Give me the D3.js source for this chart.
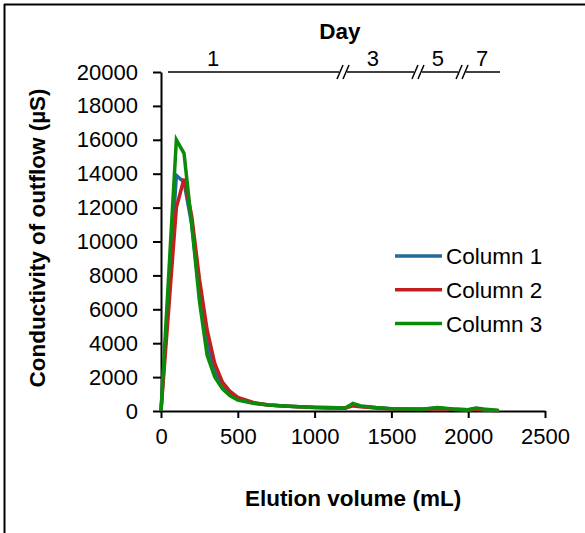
<!DOCTYPE html>
<html>
<head>
<meta charset="utf-8">
<script src="https://cdn.jsdelivr.net/npm/d3@7"></script>
<style>
  body { margin: 0; background: #fff; }
  svg { display: block; font-family: "Liberation Sans", Arial, sans-serif; }
</style>
</head>
<body>
<svg id="chart" width="585" height="533"></svg>
<script>
// elution volume (mL) of each sample
var volumes = [0, 100, 150, 200, 250, 300, 350, 400, 450, 500, 600, 700, 800, 900, 1000, 1100, 1200, 1250, 1300, 1400, 1500, 1600, 1700, 1800, 1900, 2000, 2050, 2100, 2200];
var column1 = [0, 13900, 13500, 11000, 7000, 4000, 2300, 1450, 1000, 720, 480, 350, 300, 250, 210, 190, 175, 380, 280, 190, 130, 110, 110, 180, 110, 70, 150, 90, 20];
var column2 = [0, 12000, 13700, 11500, 7800, 4800, 2800, 1700, 1150, 800, 500, 350, 300, 250, 200, 180, 170, 300, 250, 180, 120, 100, 100, 130, 100, 50, 100, 60, 10];
var column3 = [0, 16000, 15200, 11000, 6500, 3300, 2000, 1300, 900, 650, 450, 350, 300, 250, 220, 200, 180, 450, 300, 200, 130, 120, 110, 200, 120, 80, 180, 120, 30];
var seriesNames = ["Column 1", "Column 2", "Column 3"];
var seriesColors = ["#1f6b99", "#c0201f", "#0a8c0a"];

var xTicks = [0, 500, 1000, 1500, 2000, 2500];
var yTicks = [0, 2000, 4000, 6000, 8000, 10000, 12000, 14000, 16000, 18000, 20000];

// day annotation along the top (positions in mL)
var dayLabels = ["1", "3", "5", "7"];
var dayLabelAt = [339, 1380, 1803, 2090];
var dayBreaks = [1185, 1673, 1960];
var dayLineRange = [46, 2207];

var svg = d3.select("#chart");

// frame (top and left edge only visible)
svg.append("line").attr("x1", 4).attr("x2", 585).attr("y1", 4.5).attr("y2", 4.5)
    .attr("stroke", "#000").attr("stroke-width", 2);
svg.append("line").attr("x1", 4.5).attr("x2", 4.5).attr("y1", 4).attr("y2", 533)
    .attr("stroke", "#000").attr("stroke-width", 2);

var x = d3.scaleLinear().domain([0, 2500]).range([161, 545]);
var y = d3.scaleLinear().domain([0, 20000]).range([411, 72]);

var xAxis = svg.append("g").attr("transform", "translate(0,411)")
    .call(d3.axisBottom(x).tickValues(xTicks).tickFormat(d3.format("d"))
        .tickSize(7).tickSizeOuter(0).tickPadding(10));
var yAxis = svg.append("g").attr("transform", "translate(161,0)")
    .call(d3.axisLeft(y).tickValues(yTicks).tickFormat(d3.format("d"))
        .tickSize(8).tickSizeOuter(0).tickPadding(15));

[xAxis, yAxis].forEach(function(ax) {
    ax.selectAll("path.domain").attr("stroke", "#000").attr("stroke-width", 2);
    ax.selectAll(".tick line").attr("stroke", "#000").attr("stroke-width", 2);
    ax.selectAll("text").attr("fill", "#000").style("font-size", "22px")
        .style("font-family", "'Liberation Sans', Arial, sans-serif");
});

// axis titles
svg.append("text").attr("x", 353).attr("y", 506).attr("text-anchor", "middle")
    .style("font-size", "22.5px").style("font-weight", "bold").text("Elution volume (mL)");
svg.append("text").attr("transform", "translate(45,238) rotate(-90)").attr("text-anchor", "middle")
    .style("font-size", "22.5px").style("font-weight", "bold").text("Conductivity of outflow (µS)");

// lines
var allSeries = [column1, column2, column3];
var line = d3.line().x(function(d) { return x(d[0]); }).y(function(d) { return y(d[1]); });
allSeries.forEach(function(vals, i) {
    var pts = volumes.map(function(v, j) { return [v, vals[j]]; });
    svg.append("path").datum(pts).attr("d", line)
        .attr("fill", "none").attr("stroke", seriesColors[i])
        .attr("stroke-width", 3.5).attr("stroke-linejoin", "miter");
});

// legend
var legend = svg.append("g");
seriesNames.forEach(function(name, i) {
    var ly = 256 + i * 33.8;
    legend.append("line").attr("x1", 395).attr("x2", 442).attr("y1", ly).attr("y2", ly)
        .attr("stroke", seriesColors[i]).attr("stroke-width", 3.5);
    legend.append("text").attr("x", 446).attr("y", ly + 8).style("font-size", "22.5px").text(name);
});

// day bar along the top
var dayY = y(20000);
var segs = [dayLineRange[0]].concat(dayBreaks, [dayLineRange[1]]);
for (var k = 0; k < segs.length - 1; k++) {
    var a = x(segs[k]) + (k > 0 ? 4 : 0);
    var b = x(segs[k + 1]) - (k < segs.length - 2 ? 4 : 0);
    svg.append("line").attr("x1", a).attr("x2", b).attr("y1", dayY).attr("y2", dayY)
        .attr("stroke", "#000").attr("stroke-width", 1.5);
}
dayBreaks.forEach(function(v) {
    var cx = x(v);
    [-3, 3].forEach(function(off) {
        svg.append("line").attr("x1", cx + off - 3).attr("x2", cx + off + 3)
            .attr("y1", dayY + 7).attr("y2", dayY - 7)
            .attr("stroke", "#000").attr("stroke-width", 1.5);
    });
});
dayLabels.forEach(function(lbl, i) {
    svg.append("text").attr("x", x(dayLabelAt[i])).attr("y", 66).attr("text-anchor", "middle")
        .style("font-size", "22px").text(lbl);
});
svg.append("text").attr("x", 340).attr("y", 39).attr("text-anchor", "middle")
    .style("font-size", "22.5px").style("font-weight", "bold").text("Day");
</script>
</body>
</html>
